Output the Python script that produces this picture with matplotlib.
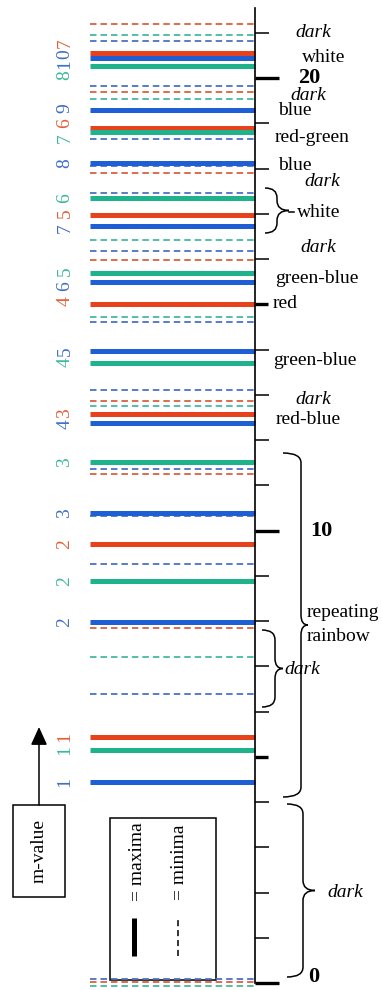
import numpy as np
import matplotlib
matplotlib.use("Agg")
import matplotlib.pyplot as plt
from matplotlib.path import Path
from matplotlib.patches import PathPatch, Rectangle

plt.rcParams["font.family"] = ["Liberation Serif", "DejaVu Serif"]

# positions of the interference maxima (solid) and minima (dashed), in scale units
red_max = [5.44, 9.70, 12.58, 15.01, 16.98, 18.89, 20.56]
green_max = [5.14, 8.89, 11.52, 13.71, 15.69, 17.35, 18.80, 20.27]
blue_max = [4.44, 7.97, 10.38, 12.37, 13.97, 15.49, 16.74, 18.12, 19.30, 20.44]
red_min = [0.02, 7.84, 11.25, 12.87, 15.98, 17.90, 19.70, 21.20]
green_min = [-0.07, 7.21, 12.75, 14.72, 16.42, 19.54, 20.96]
blue_min = [0.08, 6.39, 9.26, 10.32, 11.36, 13.11, 14.61, 16.19, 17.47,
            18.06, 18.65, 19.83, 20.83]

scale_ticks = np.arange(0, 22)
major_ticks = [0, 10, 20]
bold_ticks = [5, 15]

# m-value labels, digits bottom-to-top with their colours
m_labels = ["1", "1", "1", "2", "2", "2", "3", "3", "43", "45",
            "4 6 5", "7 5 6", "8", "7 6 9", "8107"]
m_colors = ["b", "g", "r", "b", "g", "r", "b", "g", "br", "gb",
            "rbg", "brg", "b", "grb", "gbbr"]
m_lines = [[blue_max[0]], [green_max[0]], [red_max[0]],
           [blue_max[1]], [green_max[1]], [red_max[1]],
           [blue_max[2]], [green_max[2]],
           [blue_max[3], red_max[2]], [green_max[3], blue_max[4]],
           [red_max[3], blue_max[5], green_max[4]],
           [blue_max[6], red_max[4], green_max[5]],
           [blue_max[7]],
           [green_max[6], red_max[5], blue_max[8]],
           [green_max[7], blue_max[9], red_max[6]]]

# colour names beside the scale
color_names = ["dark", "white", "dark", "blue", "red-green", "blue", "dark",
               "white", "dark", "green-blue", "red", "green-blue", "dark",
               "red-blue", "repeating", "rainbow", "dark", "dark"]
color_name_y = [21.02, 20.45, 19.61, 19.28, 18.68, 18.08, 17.71, 17.04, 16.25,
                15.58, 15.03, 13.77, 12.89, 12.45, 8.18, 7.65, 6.92, 2.01]

RED, GREEN, BLUE = "#e8421c", "#1fb38b", "#1f5fd6"
RED_D, GREEN_D, BLUE_D = "#d9613f", "#45b9a1", "#4a73c4"
TXT = {"r": "#e0603a", "g": "#3cb89b", "b": "#3f6fc6"}

PX = 45.24          # pixels per scale unit
def v(px):
    return (983 - px) / PX

fig = plt.figure(figsize=(3.82, 9.90), dpi=100)
ax = fig.add_axes([0, 0, 1, 1])
ax.set_xlim(0, 382)
ax.set_ylim(v(990), v(0))
ax.axis("off")

X0, X1 = 90, 255
for vals, col in [(red_min, RED_D), (green_min, GREEN_D), (blue_min, BLUE_D)]:
    for y in vals:
        ax.plot([X0, X1], [y, y], color=col, lw=1.3, ls=(0, (3.6, 2.2)))
for vals, col in [(red_max, RED), (green_max, GREEN), (blue_max, BLUE)]:
    for y in vals:
        ax.plot([X0, X1], [y, y], color=col, lw=3.6, solid_capstyle="butt")

# scale
ax.plot([255, 255], [0, v(8)], color="black", lw=1.2)
for t in scale_ticks:
    if t in major_ticks:
        ax.plot([255, 279], [t, t], color="black", lw=2.4, solid_capstyle="butt")
    elif t in bold_ticks:
        ax.plot([255, 268], [t, t], color="black", lw=2.4, solid_capstyle="butt")
    else:
        ax.plot([255, 269], [t, t], color="black", lw=1.1, solid_capstyle="butt")
ax.text(298, 20, "20", fontsize=16, fontweight="bold", va="center", ha="left")
ax.text(310, 10, "10", fontsize=16, fontweight="bold", va="center", ha="left")
ax.text(308, v(977), "0", fontsize=16, fontweight="bold", va="center", ha="left")

# m-value digits, stacked upward and centred on their lines
for lab, cols, lines in zip(m_labels, m_colors, m_lines):
    steps = [10.5 if c != " " else 4.5 for c in lab]
    pos = -sum(steps) / 2
    k = 0
    yc = np.mean(lines)
    for c, s in zip(lab, steps):
        if c != " ":
            ax.text(65, yc + (pos + s / 2) / PX, c, rotation=90, fontsize=14,
                    color=TXT[cols[k]], ha="center", va="center")
            k += 1
        pos += s

# colour names
name_x = [313, 302, 308, 278, 275, 278, 322, 297, 318, 275, 273, 273, 313,
          276, 307, 307, 302, 345]
for name, y, x in zip(color_names, color_name_y, name_x):
    if name == "dark":
        ax.text(x, y, name, fontsize=14, style="italic", ha="center", va="center")
    else:
        ax.text(x, y, name, fontsize=14, ha="left", va="center")


def brace(x, y_top, y_bot, w, tip, r=0.22):
    ym = (y_top + y_bot) / 2
    verts = [(x - w, y_top), (x, y_top), (x, y_top - r), (x, ym + r),
             (x, ym), (x + tip, ym),
             (x + tip, ym), (x, ym), (x, ym - r), (x, y_bot + r),
             (x, y_bot), (x - w, y_bot)]
    codes = [Path.MOVETO, Path.CURVE3, Path.CURVE3, Path.LINETO,
             Path.CURVE3, Path.CURVE3,
             Path.MOVETO, Path.CURVE3, Path.CURVE3, Path.LINETO,
             Path.CURVE3, Path.CURVE3]
    ax.add_patch(PathPatch(Path(verts, codes), fill=False, lw=1.1,
                           edgecolor="black"))


brace(277, v(188), v(233), 12, 12)
ax.plot([289, 294], [v(212), v(212)], color="black", lw=1.1)
brace(301, v(453), v(797), 18, 7)
brace(275, v(630), v(707), 13, 8)
brace(303, v(804), v(977), 16, 12)

# m-value box with arrow
ax.add_patch(Rectangle((13, v(897)), 52, v(805) - v(897), fill=False, lw=1.1))
ax.text(39, v(851), "m-value", rotation=90, fontsize=14, ha="center", va="center")
ax.annotate("", xy=(39, v(727)), xytext=(39, v(805)),
            arrowprops=dict(arrowstyle="-|>,head_length=0.55,head_width=0.25",
                            mutation_scale=20, lw=1.1, color="black",
                            shrinkA=0, shrinkB=0))

# key box
ax.add_patch(Rectangle((110, v(980)), 106, v(818) - v(980), fill=False, lw=1.1))
ax.text(137, v(862), "= maxima", rotation=90, fontsize=14, ha="center", va="center")
ax.text(179, v(862), "= minima", rotation=90, fontsize=14, ha="center", va="center")
ax.plot([134, 134], [v(956), v(918)], color="black", lw=3.6, solid_capstyle="butt")
ax.plot([178, 178], [v(956), v(918)], color="black", lw=1.1, ls=(0, (4, 2.5)))

fig.savefig("out.png", dpi=100)
